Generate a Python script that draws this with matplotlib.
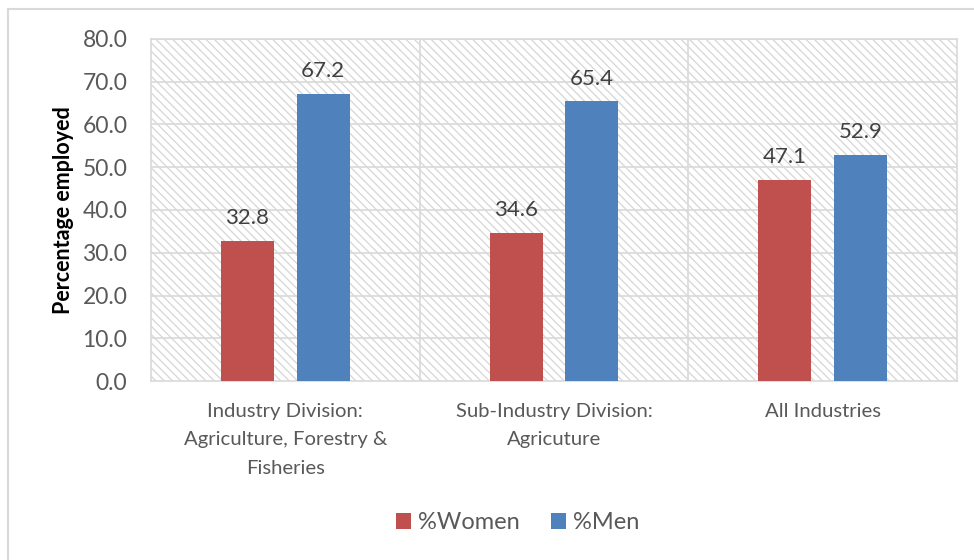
import numpy as np
import matplotlib
matplotlib.use('Agg')
import matplotlib.pyplot as plt
from matplotlib.patches import Rectangle
from matplotlib.lines import Line2D

categories = ['Industry Division:\nAgriculture, Forestry &\nFisheries',
              'Sub-Industry Division:\nAgricuture',
              'All Industries']
women = [32.8, 34.6, 47.1]
men = [67.2, 65.4, 52.9]
yticks = [0, 10, 20, 30, 40, 50, 60, 70, 80]

plt.rcParams['font.family'] = ['Lato', 'DejaVu Sans']
plt.rcParams['hatch.color'] = '#d6d6d6'
plt.rcParams['hatch.linewidth'] = 0.9
txt = '#595959'
grid = '#d9d9d9'

fig = plt.figure(figsize=(9.74, 5.6), dpi=100)
ax = fig.add_axes([0.155, 0.3196, 0.9826 - 0.155, 0.9304 - 0.3196])

# hatched plot area background
ax.add_patch(Rectangle((0, 0), 1, 1, transform=ax.transAxes, facecolor='white',
                       edgecolor='#d6d6d6', linewidth=0, hatch='\\\\\\\\', zorder=0))

x = np.arange(len(categories))
w = 0.197
off = 0.141
b1 = ax.bar(x - off, women, w, color='#C0504D', label='%Women', zorder=3)
b2 = ax.bar(x + off, men, w, color='#4F81BD', label='%Men', zorder=3)

for bars, vals in ((b1, women), (b2, men)):
    for r, v in zip(bars, vals):
        ax.text(r.get_x() + r.get_width() / 2, v + 3.0, '%.1f' % v,
                ha='center', va='bottom', fontsize=16, color='#404040')

ax.set_xlim(-0.5, 2.5)
ax.set_ylim(0, 80)
ax.set_yticks(yticks)
ax.set_yticklabels(['%.1f' % t for t in yticks], fontsize=16.5, color=txt)
ax.set_xticks(x)
ax.set_xticklabels(categories, fontsize=14.6, color=txt, linespacing=1.85)
ax.tick_params(axis='both', length=0)
ax.tick_params(axis='y', pad=17)
ax.tick_params(axis='x', pad=15.5)
ax.set_ylabel('Percentage employed', fontsize=15.5, fontweight='bold', color='black', labelpad=6)

for t in yticks[1:]:
    ax.axhline(t, color=grid, lw=1.2, zorder=1)
for xv in [0.5, 1.5]:
    ax.axvline(xv, color=grid, lw=1.2, zorder=1)
for s in ax.spines.values():
    s.set_color(grid)
    s.set_linewidth(1.2)

ax.legend(loc='center', bbox_to_anchor=(0.455, -0.415), ncol=2, frameon=False,
          fontsize=17, labelcolor=txt, handlelength=0.65, handleheight=0.65,
          handletextpad=0.3, columnspacing=1.3)

# outer chart border (top and left visible)
fig.add_artist(Line2D([8 / 974, 8 / 974], [0, 1 - 9 / 560], color=grid, lw=1.5))
fig.add_artist(Line2D([8 / 974, 1], [1 - 9 / 560, 1 - 9 / 560], color=grid, lw=1.5))

fig.savefig('out.png', dpi=100)
